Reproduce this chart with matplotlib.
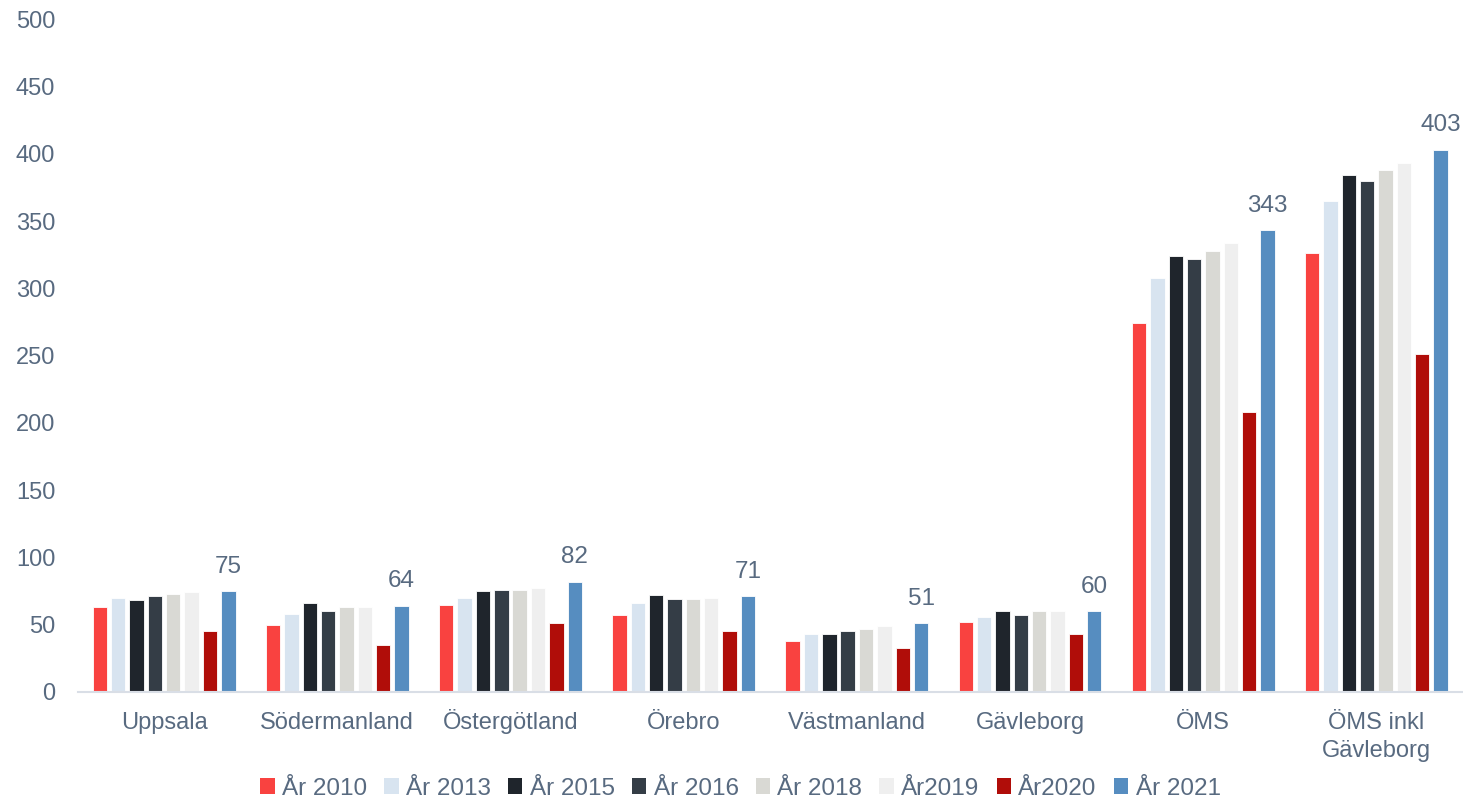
import matplotlib
matplotlib.use("Agg")
import matplotlib.pyplot as plt
import numpy as np
from matplotlib.patches import Patch

plt.rcParams['font.family'] = ['Liberation Sans', 'DejaVu Sans']

categories = ["Uppsala", "Södermanland", "Östergötland", "Örebro", "Västmanland",
              "Gävleborg", "ÖMS", "ÖMS inkl\nGävleborg"]
series_names = ["År 2010", "År 2013", "År 2015", "År 2016", "År 2018", "År2019", "År2020", "År 2021"]

ar2010 = [63, 50, 65, 57, 38, 52, 274, 326]
ar2013 = [70, 58, 70, 66, 43, 56, 308, 365]
ar2015 = [68, 66, 75, 72, 43, 60, 324, 384]
ar2016 = [71, 60, 76, 69, 45, 57, 322, 380]
ar2018 = [73, 63, 76, 69, 47, 60, 328, 388]
ar2019 = [74, 63, 77, 70, 49, 60, 334, 393]
ar2020 = [45, 35, 51, 45, 33, 43, 208, 251]
ar2021 = [75, 64, 82, 71, 51, 60, 343, 403]
series = [ar2010, ar2013, ar2015, ar2016, ar2018, ar2019, ar2020, ar2021]

colors = ["#F94240", "#D8E4F0", "#1F252C", "#343D46", "#D9D9D4", "#EFEFEF", "#B00D09", "#568DC0"]
text_color = "#586A80"

fig = plt.figure(figsize=(14.63, 8.0), dpi=100)
ax = fig.add_axes([0.053, 0.135, 0.947, 0.841])

x = np.arange(len(categories))
step = 0.106
width = 0.083
n = len(series)
for i, (vals, col) in enumerate(zip(series, colors)):
    offs = (i - (n - 1) / 2) * step
    bars = ax.bar(x + offs, vals, width=width, color=col, edgecolor="white", linewidth=0.6)
    if i == n - 1:
        for b, v in zip(bars, vals):
            ax.text(b.get_x() + b.get_width() / 2, v + 10, f"{v}", ha="center", va="bottom",
                    fontsize=17.5, color=text_color)

ax.set_xlim(-0.5, len(categories) - 0.5)
ax.set_ylim(0, 500)
ax.set_yticks(np.arange(0, 501, 50))
ax.set_xticks(x)
ax.set_xticklabels(categories)
ax.tick_params(axis="both", length=0, labelsize=17, labelcolor=text_color)
ax.tick_params(axis="y", pad=16)
ax.tick_params(axis="x", pad=26.5)
for lab in ax.get_xticklabels():
    lab.set_linespacing(1.35)
    lab.set_verticalalignment("baseline")
# multi-line label: baseline refers to its last line, so push it one line further down
ax.xaxis.get_major_ticks()[-1].set_pad(46.5)
for s in ["top", "right", "left"]:
    ax.spines[s].set_visible(False)
ax.spines["bottom"].set_color("#D9DEE6")
ax.spines["bottom"].set_linewidth(1.5)

handles = [Patch(facecolor=c, edgecolor="none") for c in colors]
fig.legend(handles, series_names, loc="lower center", ncol=8, frameon=False,
           fontsize=17.5, labelcolor=text_color, bbox_to_anchor=(0.506, -0.027),
           handlelength=0.6, handleheight=0.6, handletextpad=0.3, columnspacing=0.7)

fig.savefig("out.png", dpi=100)
